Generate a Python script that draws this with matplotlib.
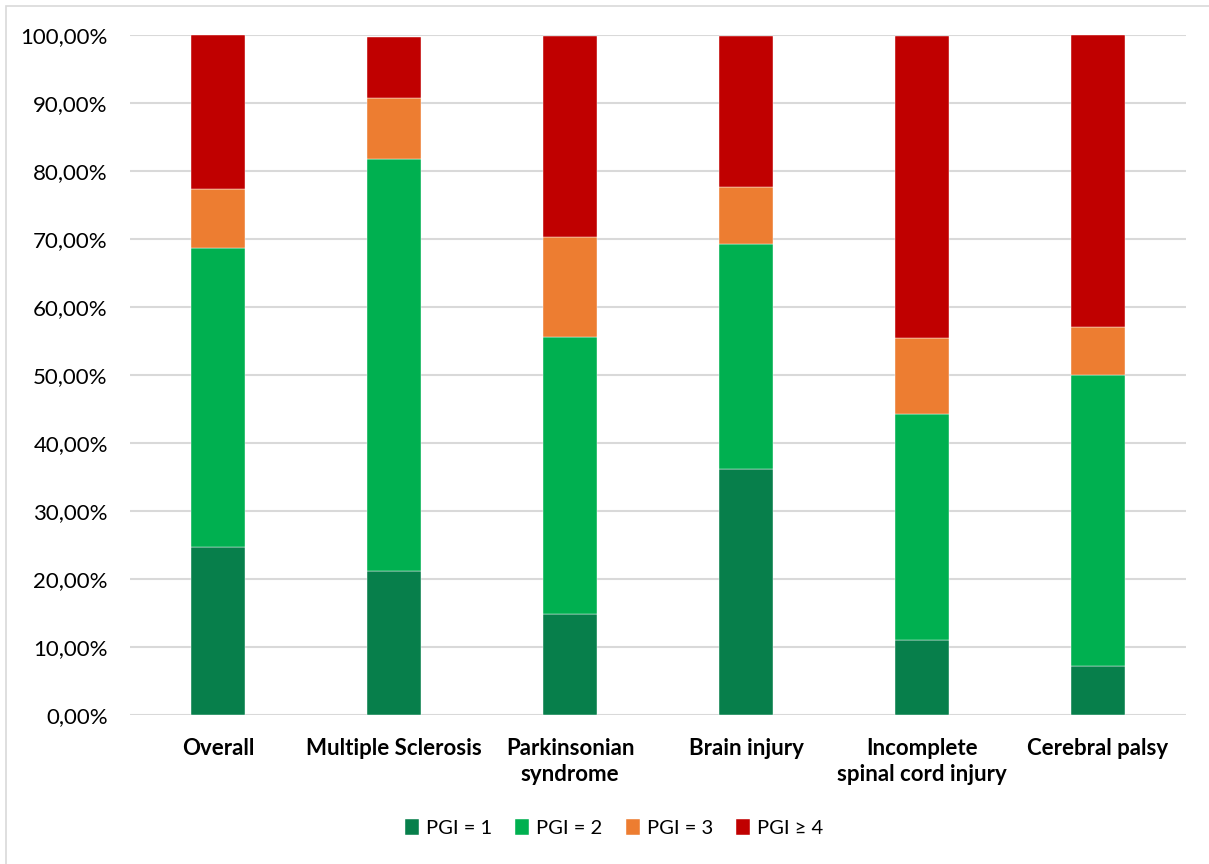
import numpy as np
import matplotlib.pyplot as plt
from matplotlib import ticker
from matplotlib.patches import Rectangle

plt.rcParams['font.family'] = ['Lato', 'DejaVu Sans']

categories = ["Overall", "Multiple Sclerosis", "Parkinsonian\nsyndrome",
              "Brain injury", "Incomplete\nspinal cord injury", "Cerebral palsy"]

# share of patients per PGI score (%)
pgi1 = [24.7, 21.1, 14.8, 36.1, 11.0, 7.1]
pgi2 = [43.9, 60.6, 40.7, 33.2, 33.3, 42.9]
pgi3 = [8.8, 9.1, 14.8, 8.4, 11.1, 7.1]
pgi4 = [22.6, 8.9, 29.5, 22.1, 44.4, 42.9]

series = [pgi1, pgi2, pgi3, pgi4]
labels = ["PGI = 1", "PGI = 2", "PGI = 3", "PGI \u2265 4"]
colors = ["#077F4B", "#00B050", "#ED7D31", "#C00000"]

fig = plt.figure(figsize=(12.09, 8.64), dpi=100)
ax = fig.add_axes([130/1209, 1 - 714.7/864, 1056/1209, 679.7/864])

# light frame around the chart area
fig.patches.append(Rectangle((6/1209, -0.01), 1.02, 1 - 6/864 + 0.01,
                             transform=fig.transFigure, fill=False,
                             edgecolor="#D9D9D9", linewidth=1.2))

x = np.arange(len(categories))
bottom = np.zeros(len(categories))
for vals, lab, col in zip(series, labels, colors):
    ax.bar(x, vals, 0.31, bottom=bottom, color=col, label=lab,
           edgecolor="white", linewidth=0.3, zorder=3)
    bottom += np.array(vals)

ax.set_xlim(-0.5, 5.5)
ax.set_ylim(0, 100)
ax.set_yticks(np.arange(0, 101, 10))
ax.yaxis.set_major_formatter(ticker.FuncFormatter(lambda v, p: "{:.2f}%".format(v).replace(".", ",")))
ax.grid(axis="y", color="#D9D9D9", linewidth=1.5, zorder=0)
ax.set_axisbelow(True)
for s in ["top", "right", "left", "bottom"]:
    ax.spines[s].set_visible(False)
ax.tick_params(axis="both", length=0, labelsize=16, colors="#000000")
ax.tick_params(axis="y", pad=16)
ax.tick_params(axis="x", pad=17)
ax.set_xticks(x)
ax.set_xticklabels(categories, fontweight="bold", fontsize=16, linespacing=1.3)

fig.legend(loc="center", bbox_to_anchor=(614/1209, 1 - 828/864), ncol=4, frameon=False,
           fontsize=14.5, handlelength=0.7, handleheight=0.8, handletextpad=0.35,
           columnspacing=1.15)

plt.savefig("out.png", dpi=100)
